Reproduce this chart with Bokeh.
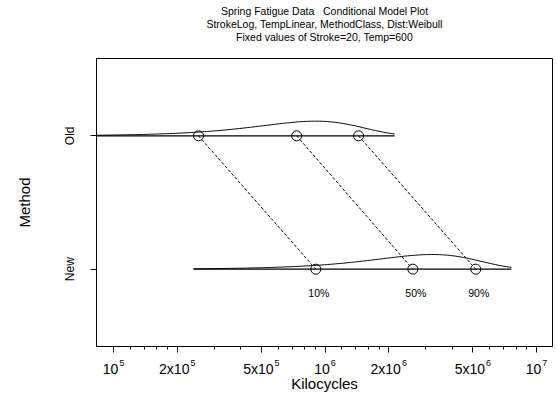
import numpy as np
from bokeh.plotting import figure
from bokeh.models import Range1d, FixedTicker, Title, LogAxis
from bokeh.core.properties import value
from bokeh.embed import file_html
from bokeh.resources import INLINE

FONT = "Liberation Sans"
WIDTH, HEIGHT = 557, 402
BORDER_L, BORDER_R = 96, 5

# Categories on the vertical axis
methods = ["New", "Old"]
method_pos = [1, 2]

# Quantiles of life (kilocycles) at Stroke=20, Temp=600
pct_labels = ["10%", "50%", "90%"]
old_quantiles = [2.52e5, 7.34e5, 1.44e6]
new_quantiles = [9.04e5, 2.60e6, 5.16e6]

# Fitted Weibull parameters for each method (scale eta, common shape beta)
old_eta = 9.0e5
new_eta = 3.21e6
beta = 1.77

# Axis ticks: mantissa prefix and power of ten for each major label
x_major = [1e5, 2e5, 5e5, 1e6, 2e6, 5e6, 1e7]
x_label_base = ["10", "2x10", "5x10", "10", "2x10", "5x10", "10"]
x_label_power = ["5", "5", "5", "6", "6", "6", "7"]
x_minor = [1.2e5, 1.4e5, 1.6e5, 1.8e5, 3e5, 4e5, 6e5, 7e5, 8e5, 9e5,
           1.2e6, 1.4e6, 1.6e6, 1.8e6, 3e6, 4e6, 6e6, 7e6, 8e6, 9e6]

title_lines = ["Spring Fatigue Data\u00a0\u00a0 Conditional Model Plot",
               "StrokeLog, TempLinear, MethodClass, Dist:Weibull",
               "Fixed values of Stroke=20, Temp=600"]

density_height = 0.11
X0, X1 = 8.3e4, 1.19e7
Y0, Y1 = 0.42, 2.58

BASE_SIZE, POW_SIZE, GAP = 14, 9, 1
# approximate advance widths (em) of Liberation Sans glyphs used in tick labels
ADV = {**{d: 0.556 for d in "0123456789"}, "x": 0.5}


def text_width(s, size):
    return sum(ADV[c] for c in s) * size


def weibull_curve(eta, shape, base, n=200):
    """Density of log-life drawn above a baseline, between the 1% and 99% quantiles."""
    p = np.linspace(0.01, 0.99, n)
    t = eta * (-np.log1p(-p)) ** (1.0 / shape)
    t = np.geomspace(t[0], t[-1], n)
    z = shape * np.log(t / eta)
    dens = np.exp(z - np.exp(z)) / np.exp(-1.0)
    return t, base + density_height * dens


p = figure(width=WIDTH, height=HEIGHT, x_axis_type="log",
           x_range=Range1d(X0, X1), y_range=Range1d(Y0, Y1),
           output_backend="svg", toolbar_location=None, title=None,
           min_border_left=BORDER_L, min_border_right=BORDER_R,
           min_border_top=58, min_border_bottom=56)

p.background_fill_color = "white"
p.border_fill_color = "white"
p.outline_line_color = "black"
p.outline_line_width = 1
p.xgrid.visible = False
p.ygrid.visible = False

# Three-line heading, added from the frame outward; the last line keeps
# an empty line beneath it as spacing above the frame
heading = [(title_lines[2] + "\n", 4), (title_lines[1], -4), (title_lines[0], 1)]
for txt, so in heading:
    p.add_layout(Title(text=txt, align="center", text_font=FONT,
                       text_font_size="10.5px", text_font_style="normal",
                       text_line_height=1.1, text_color="black", standoff=so),
                 "above")

# X axis ticks (labels are set on the two axes below it)
xa = p.xaxis[0]
xa.ticker = FixedTicker(ticks=x_major, minor_ticks=x_minor)
xa.major_label_overrides = {int(v): "" for v in x_major}
xa.major_label_standoff = 0
xa.major_tick_out = 6
xa.major_tick_in = 0
xa.minor_tick_out = 3
xa.minor_tick_in = 0
xa.axis_line_color = "black"
xa.major_tick_line_color = "black"
xa.minor_tick_line_color = "black"

# Label anchors: mantissa and power sit side by side, centred on each tick
px_per_decade = (WIDTH - BORDER_L - BORDER_R) / np.log10(X1 / X0)
base_anchor, pow_anchor = [], []
for tick, base, power in zip(x_major, x_label_base, x_label_power):
    wb = text_width(base, BASE_SIZE)
    wp = text_width(power, POW_SIZE)
    base_anchor.append(tick * 10 ** (-(GAP + wp) / 2 / px_per_decade))
    pow_anchor.append(tick * 10 ** ((wb + GAP) / 2 / px_per_decade))


def label_axis(anchors, texts, size, standoff):
    ax = LogAxis(ticker=FixedTicker(ticks=anchors, minor_ticks=[]))
    ax.major_label_overrides = {a: t for a, t in zip(anchors, texts)}
    ax.major_label_text_font = FONT
    ax.major_label_text_font_size = f"{size}px"
    ax.major_label_text_color = "black"
    ax.major_label_standoff = standoff
    ax.axis_line_color = None
    ax.major_tick_line_color = None
    ax.minor_tick_line_color = None
    ax.major_tick_out = 0
    ax.major_tick_in = 0
    ax.minor_tick_out = 0
    ax.minor_tick_in = 0
    p.add_layout(ax, "below")
    return ax


pow_axis = label_axis(pow_anchor, x_label_power, POW_SIZE, 7)
base_axis = label_axis(base_anchor, x_label_base, BASE_SIZE, -8)
base_axis.axis_label = "Kilocycles"
base_axis.axis_label_text_font = FONT
base_axis.axis_label_text_font_size = "15px"
base_axis.axis_label_text_font_style = "normal"
base_axis.axis_label_text_color = "black"
base_axis.axis_label_standoff = -5

# Y axis
ya = p.yaxis[0]
ya.ticker = FixedTicker(ticks=method_pos, minor_ticks=[])
ya.major_label_overrides = {v: s for v, s in zip(method_pos, methods)}
ya.major_label_orientation = "vertical"
ya.axis_label = "Method"
ya.axis_label_text_font = FONT
ya.axis_label_text_font_size = "15px"
ya.axis_label_text_font_style = "normal"
ya.axis_label_text_color = "black"
ya.axis_label_standoff = 28
ya.major_label_text_font = FONT
ya.major_label_text_font_size = "12px"
ya.major_label_text_color = "black"
ya.major_label_standoff = 13
ya.major_tick_out = 6
ya.major_tick_in = 0
ya.minor_tick_out = 0
ya.minor_tick_in = 0
ya.axis_line_color = "black"
ya.major_tick_line_color = "black"

# Density curves and baselines for each method
for eta, base in [(old_eta, method_pos[1]), (new_eta, method_pos[0])]:
    t, y = weibull_curve(eta, beta, base)
    p.line(t, y, line_color="black", line_width=1)
    p.line([t[0], t[-1]], [base, base], line_color="black", line_width=1.3)

# Dashed connectors between matching quantiles
p.segment(x0=old_quantiles, y0=[method_pos[1]] * 3,
          x1=new_quantiles, y1=[method_pos[0]] * 3,
          line_color="black", line_width=1, line_dash="3 2")

# Quantile markers
p.scatter(old_quantiles, [method_pos[1]] * 3, marker="circle", size=10,
          fill_color=None, line_color="black", line_width=1)
p.scatter(new_quantiles, [method_pos[0]] * 3, marker="circle", size=10,
          fill_color=None, line_color="black", line_width=1)

# Percent labels beneath the New markers
p.text(x=new_quantiles, y=[method_pos[0]] * 3, text=pct_labels,
       x_offset=3, y_offset=24, text_align="center", text_baseline="middle",
       text_font=value(FONT), text_font_size="10.5px", text_color="black")

open("out.html", "w").write(file_html(p, INLINE))
